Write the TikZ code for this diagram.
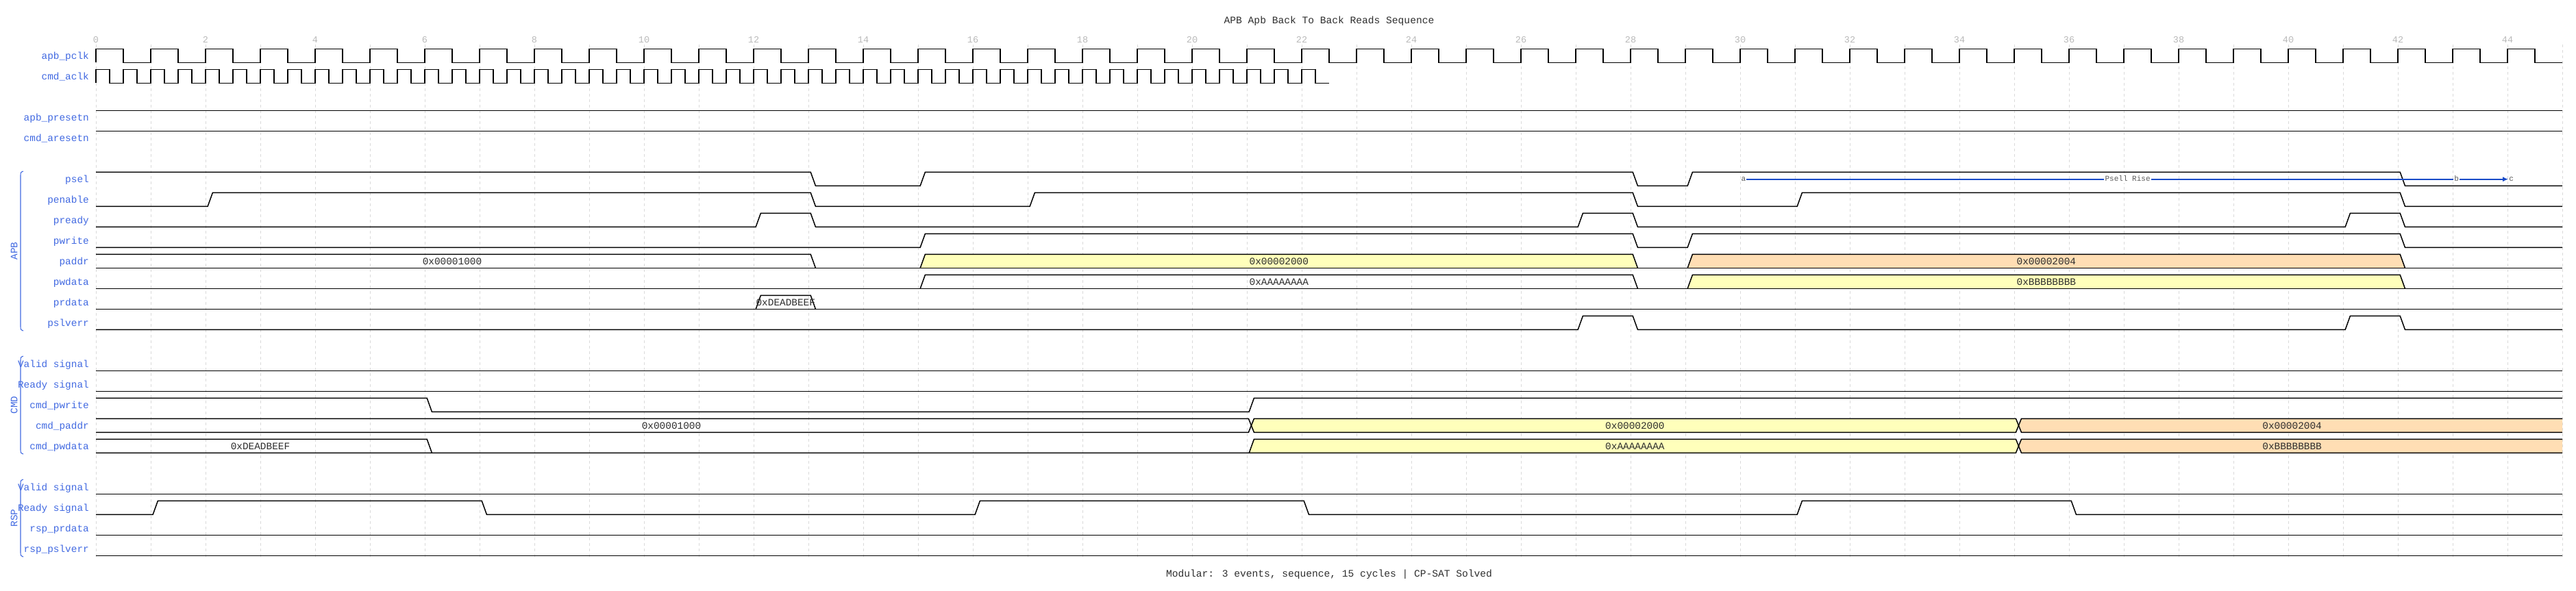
\documentclass[tikz,border=0pt]{standalone}
\usepackage{fontspec}
\setmainfont{Liberation Mono}
\setmonofont{Liberation Mono}
\usetikzlibrary{arrows.meta}
\definecolor{lblblue}{RGB}{65,105,225}
\definecolor{gridgray}{RGB}{218,218,218}
\definecolor{tickgray}{RGB}{185,185,185}
\definecolor{busyellow}{RGB}{255,255,187}
\definecolor{busorange}{RGB}{255,222,180}
\definecolor{txtdark}{RGB}{45,45,45}
\definecolor{annblue}{RGB}{25,75,200}
\definecolor{anntext}{RGB}{90,90,90}
\newcommand\sgup[1]{-- ({#1+0.04},\yL) -- ({#1+0.13},\yH)}
\newcommand\sgdn[1]{-- ({#1+0.04},\yH) -- ({#1+0.13},\yL)}
\newcommand\setrow[1]{\pgfmathsetmacro\yH{71.3+30*#1}\pgfmathsetmacro\yL{\yH+20}\pgfmathsetmacro\yM{\yH+10}\pgfmathsetmacro\yB{\yH+15}}
\newcommand\sglbl[3]{\setrow{#1}\node[sglabel] (#2) at (-0.125,\yB) {#3};}
% rise at t1, fall at t2 bus segment
\newcommand\busRF[5]{%
  \path[#1] ({#2+0.04},\yL) -- ({#2+0.13},\yH) -- ({#3+0.04},\yH) -- ({#3+0.13},\yL) -- cycle;
  \draw[sig] ({#2+0.04},\yL) -- ({#2+0.13},\yH) -- ({#3+0.04},\yH) -- ({#3+0.13},\yL);
  \node[val] (#5) at ({(#2+#3)/2+0.085},\yB) {#4};}
\begin{document}
\begin{tikzpicture}[x=80pt,y=-1pt,
  sig/.style={line width=1.5pt,black},
  clk/.style={line width=1.5pt,black},
  grid/.style={gridgray,line width=0.8pt,dash pattern=on 4pt off 4pt},
  sglabel/.style={anchor=base east,inner sep=0pt,text=lblblue,font=\fontsize{14.4}{16}\selectfont},
  grplabel/.style={inner sep=0pt,text=lblblue,rotate=90,font=\fontsize{14.4}{16}\selectfont},
  brace/.style={lblblue,line width=1.1pt},
  val/.style={anchor=base,inner sep=0pt,text=txtdark,font=\fontsize{14.4}{16}\selectfont},
  tick/.style={anchor=base,inner sep=0pt,text=tickgray,font=\fontsize{13.5}{15}\selectfont},
  ttl/.style={anchor=base,inner sep=0pt,text=txtdark,font=\fontsize{14.6}{16}\selectfont},
  anntxt/.style={inner sep=1pt,text=anntext,text height=7pt,text depth=2pt,font=\fontsize{11}{12}\selectfont},
  ann/.style={annblue,line width=1.6pt}]
\useasboundingbox (-1.75,0) rectangle (45.25,862);
% title and footer
\node[ttl] (title) at (22.5,34) {APB Apb Back To Back Reads Sequence};
\node[ttl] (footer) at (22.5,842) {Modular: 3 events, sequence, 15 cycles | CP-SAT Solved};
% grid
\foreach \t in {0,...,45} \draw[grid] (\t,65) -- (\t,815);
\foreach \t in {0,2,...,44} \node[tick] (tk\t) at (\t,62) {\t};
% labels
\sglbl{0}{l-pclk}{apb\_pclk}
\sglbl{1}{l-aclk}{cmd\_aclk}
\sglbl{3}{l-presetn}{apb\_presetn}
\sglbl{4}{l-aresetn}{cmd\_aresetn}
\sglbl{6}{l-psel}{psel}
\sglbl{7}{l-penable}{penable}
\sglbl{8}{l-pready}{pready}
\sglbl{9}{l-pwrite}{pwrite}
\sglbl{10}{l-paddr}{paddr}
\sglbl{11}{l-pwdata}{pwdata}
\sglbl{12}{l-prdata}{prdata}
\sglbl{13}{l-pslverr}{pslverr}
\sglbl{15}{l-cvalid}{Valid signal}
\sglbl{16}{l-cready}{Ready signal}
\sglbl{17}{l-cpwrite}{cmd\_pwrite}
\sglbl{18}{l-cpaddr}{cmd\_paddr}
\sglbl{19}{l-cpwdata}{cmd\_pwdata}
\sglbl{21}{l-rvalid}{Valid signal}
\sglbl{22}{l-rready}{Ready signal}
\sglbl{23}{l-rprdata}{rsp\_prdata}
\sglbl{24}{l-rpslverr}{rsp\_pslverr}
% group braces
\draw[brace] (-1.325,250) .. controls (-1.362,250) and (-1.375,252) .. (-1.375,256) -- (-1.375,477) .. controls (-1.375,481) and (-1.362,483) .. (-1.325,483);
\node[grplabel] (g-apb) at (-1.491,366.5) {APB};
\draw[brace] (-1.325,520) .. controls (-1.362,520) and (-1.375,522) .. (-1.375,526) -- (-1.375,657) .. controls (-1.375,661) and (-1.362,663) .. (-1.325,663);
\node[grplabel] (g-cmd) at (-1.491,591.5) {CMD};
\draw[brace] (-1.325,700) .. controls (-1.362,700) and (-1.375,702) .. (-1.375,706) -- (-1.375,807) .. controls (-1.375,811) and (-1.362,813) .. (-1.325,813);
\node[grplabel] (g-rsp) at (-1.491,756.5) {RSP};
% clocks
\setrow{0}
\draw[clk] (0,\yL) \foreach \i in {0,...,44} { -- (\i,\yH) -- (\i+0.5,\yH) -- (\i+0.5,\yL) -- (\i+1,\yL) };
\setrow{1}
\draw[clk] (0,\yL) \foreach \i in {0,...,44} { -- (\i*0.5,\yH) -- (\i*0.5+0.25,\yH) -- (\i*0.5+0.25,\yL) -- (\i*0.5+0.5,\yL) };
% resets
\setrow{3} \draw[sig] (0,\yH) -- (45,\yH);
\setrow{4} \draw[sig] (0,\yH) -- (45,\yH);
% APB
\setrow{6} \draw[sig] (0,\yH) \sgdn{13} \sgup{15} \sgdn{28} \sgup{29} \sgdn{42} -- (45,\yL);
\setrow{7} \draw[sig] (0,\yL) \sgup{2} \sgdn{13} \sgup{17} \sgdn{28} \sgup{31} \sgdn{42} -- (45,\yL);
\setrow{8} \draw[sig] (0,\yL) \sgup{12} \sgdn{13} \sgup{27} \sgdn{28} \sgup{41} \sgdn{42} -- (45,\yL);
\setrow{9} \draw[sig] (0,\yL) \sgup{15} \sgdn{28} \sgup{29} \sgdn{42} -- (45,\yL);
\setrow{10}
\draw[sig] (0,\yH) -- (13.04,\yH) -- (13.13,\yL);
\node[val] (v-paddr1) at (6.5,\yB) {0x00001000};
\busRF{fill=busyellow}{15}{28}{0x00002000}{v-paddr2}
\busRF{fill=busorange}{29}{42}{0x00002004}{v-paddr3}
\draw[sig] (0,\yL) -- (45,\yL);
\setrow{11}
\busRF{fill=none}{15}{28}{0xAAAAAAAA}{v-pwdata1}
\busRF{fill=busyellow}{29}{42}{0xBBBBBBBB}{v-pwdata2}
\draw[sig] (0,\yL) -- (45,\yL);
\setrow{12}
\busRF{fill=none}{12}{13}{0xDEADBEEF}{v-prdata1}
\draw[sig] (0,\yL) -- (45,\yL);
\setrow{13} \draw[sig] (0,\yL) \sgup{27} \sgdn{28} \sgup{41} \sgdn{42} -- (45,\yL);
% CMD
\setrow{15} \draw[sig] (0,\yL) -- (45,\yL);
\setrow{16} \draw[sig] (0,\yL) -- (45,\yL);
\setrow{17} \draw[sig] (0,\yH) \sgdn{6} \sgup{21} -- (45,\yH);
\setrow{18}
\fill[busyellow] (21.08,\yM) -- (21.13,\yH) -- (35.03,\yH) -- (35.08,\yM) -- (35.03,\yL) -- (21.13,\yL) -- cycle;
\fill[busorange] (35.08,\yM) -- (35.13,\yH) -- (45,\yH) -- (45,\yL) -- (35.13,\yL) -- cycle;
\draw[sig] (0,\yH) -- (21.03,\yH) -- (21.08,\yM) -- (21.03,\yL) -- (0,\yL);
\draw[sig] (21.08,\yM) -- (21.13,\yH) -- (35.03,\yH) -- (35.08,\yM) -- (35.03,\yL) -- (21.13,\yL) -- cycle;
\draw[sig] (45,\yH) -- (35.13,\yH) -- (35.08,\yM) -- (35.13,\yL) -- (45,\yL);
\node[val] (v-cpaddr1) at (10.5,\yB) {0x00001000};
\node[val] (v-cpaddr2) at (28.08,\yB) {0x00002000};
\node[val] (v-cpaddr3) at (40.07,\yB) {0x00002004};
\setrow{19}
\fill[busyellow] (21.04,\yL) -- (21.13,\yH) -- (35.03,\yH) -- (35.08,\yM) -- (35.03,\yL) -- cycle;
\fill[busorange] (35.08,\yM) -- (35.13,\yH) -- (45,\yH) -- (45,\yL) -- (35.13,\yL) -- cycle;
\draw[sig] (0,\yH) -- (6.04,\yH) -- (6.13,\yL);
\draw[sig] (0,\yL) -- (21.04,\yL) -- (21.13,\yH) -- (35.03,\yH) -- (35.08,\yM) -- (35.03,\yL) -- (21.04,\yL);
\draw[sig] (45,\yH) -- (35.13,\yH) -- (35.08,\yM) -- (35.13,\yL) -- (45,\yL);
\node[val] (v-cpwdata1) at (3.0,\yB) {0xDEADBEEF};
\node[val] (v-cpwdata2) at (28.08,\yB) {0xAAAAAAAA};
\node[val] (v-cpwdata3) at (40.07,\yB) {0xBBBBBBBB};
% RSP
\setrow{21} \draw[sig] (0,\yL) -- (45,\yL);
\setrow{22} \draw[sig] (0,\yL) \sgup{1} \sgdn{7} \sgup{16} \sgdn{22} \sgup{31} \sgdn{36} -- (45,\yL);
\setrow{23} \draw[sig] (0,\yL) -- (45,\yL);
\setrow{24} \draw[sig] (0,\yL) -- (45,\yL);
% annotation
\node[anntxt] (pa) at (30.06,261.7) {a};
\node[anntxt] (pb) at (43.07,261.7) {b};
\node[anntxt] (pc) at (44.07,261.7) {c};
\node[anntxt,fill=white] (plbl) at (37.07,261.7) {Psell Rise};
\draw[ann] (pa) -- (plbl) -- (pb);
\draw[ann,-{Latex[length=8pt,width=7pt]}] (pb) -- (pc);
\end{tikzpicture}
\end{document}
